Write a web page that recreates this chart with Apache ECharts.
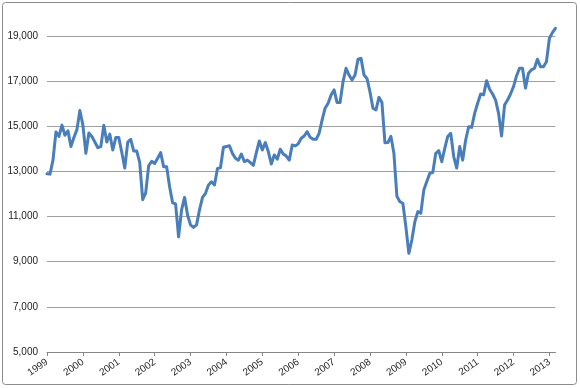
<!DOCTYPE html>
<html>
<head>
<meta charset="utf-8">
<script src="https://cdn.jsdelivr.net/npm/echarts@6/dist/echarts.min.js"></script>
<style>
  html, body { margin: 0; padding: 0; background: #fff; }
  #chart { width: 580px; height: 388px; }
</style>
</head>
<body>
<div id="chart"></div>
<script>
// monthly values (Jan..Dec)
var years = ['1999', '2000', '2001', '2002', '2003', '2004', '2005', '2006',
  '2007', '2008', '2009', '2010', '2011', '2012', '2013'];

var v1999 = [12900, 12880, 13500, 14750, 14550, 15050, 14600, 14800, 14100, 14500, 14850, 15700];
var v2000 = [15050, 13800, 14700, 14550, 14300, 14050, 14100, 15050, 14300, 14650, 13950, 14500];
var v2001 = [14500, 13850, 13150, 14300, 14420, 13900, 13900, 13400, 11750, 12050, 13250, 13450];
var v2002 = [13350, 13580, 13830, 13210, 13210, 12320, 11610, 11560, 10100, 11300, 11850, 11070];
var v2003 = [10630, 10520, 10630, 11300, 11850, 12030, 12400, 12540, 12400, 13130, 13160, 14070];
var v2004 = [14100, 14140, 13800, 13580, 13500, 13770, 13430, 13500, 13390, 13270, 13830, 14350];
var v2005 = [13950, 14280, 13880, 13330, 13730, 13540, 13980, 13770, 13680, 13500, 14170, 14130];
var v2006 = [14220, 14470, 14570, 14760, 14510, 14420, 14420, 14690, 15280, 15800, 16020, 16390];
var v2007 = [16610, 16050, 16050, 16980, 17570, 17270, 17050, 17270, 17970, 18010, 17270, 17120];
var v2008 = [16520, 15800, 15720, 16280, 16050, 14270, 14280, 14550, 13800, 11900, 11660, 11590];
var v2009 = [10550, 9370, 9960, 10770, 11220, 11150, 12180, 12550, 12920, 12950, 13800, 13920];
var v2010 = [13430, 14020, 14550, 14690, 13660, 13150, 14100, 13500, 14390, 14980, 14950, 15570];
var v2011 = [16020, 16430, 16390, 17020, 16640, 16430, 16160, 15570, 14570, 15940, 16160, 16430];
var v2012 = [16760, 17230, 17570, 17570, 16690, 17350, 17500, 17570, 17970, 17640, 17640, 17860];
var v2013 = [18900, 19150, 19340];

var values = [].concat(v1999, v2000, v2001, v2002, v2003, v2004, v2005, v2006,
  v2007, v2008, v2009, v2010, v2011, v2012, v2013);

// one category per month, the year label shows on January
var months = [];
years.forEach(function (y, yi) {
  var n = yi === years.length - 1 ? v2013.length : 12;
  for (var m = 1; m <= n; m++) {
    months.push(y + '-' + (m < 10 ? '0' + m : m));
  }
});

function isJan(index) {
  return index % 12 === 0;
}

var chart = echarts.init(document.getElementById('chart'), null, { renderer: 'canvas' });

var option = {
  animation: false,
  backgroundColor: '#fff',
  textStyle: { fontFamily: 'Liberation Sans, Arial, sans-serif' },
  grid: { left: 47, right: 24.6, top: 13.4, bottom: 36, containLabel: false },
  graphic: [{
    type: 'rect',
    silent: true,
    shape: { x: 2.5, y: 2.5, width: 574, height: 382, r: 3 },
    style: { fill: 'none', stroke: '#8c8c8c', lineWidth: 1 }
  }],
  xAxis: {
    type: 'category',
    data: months,
    boundaryGap: false,
    axisLine: { show: true, lineStyle: { color: '#868686', width: 1 } },
    axisTick: { show: true, interval: isJan, length: 4, lineStyle: { color: '#868686' } },
    axisLabel: {
      interval: isJan,
      rotate: 35,
      margin: 9,
      fontSize: 10,
      color: '#222',
      formatter: function (v) { return v.slice(0, 4); }
    },
    splitLine: { show: false }
  },
  yAxis: {
    type: 'value',
    min: 5000,
    max: 20000,
    interval: 2000,
    axisLine: { show: false },
    axisTick: { show: false },
    axisLabel: {
      fontSize: 10,
      color: '#222',
      margin: 9,
      showMaxLabel: false,
      formatter: function (v) { return v.toLocaleString('en-US'); }
    },
    splitLine: { show: true, showMaxLine: false, lineStyle: { color: '#a0a0a0', width: 1 } }
  },
  series: [{
    type: 'line',
    data: values,
    showSymbol: false,
    smooth: false,
    lineStyle: { color: '#4a7ebb', width: 3, join: 'round', cap: 'round' },
    itemStyle: { color: '#4a7ebb' }
  }]
};

chart.setOption(option);
</script>
</body>
</html>
